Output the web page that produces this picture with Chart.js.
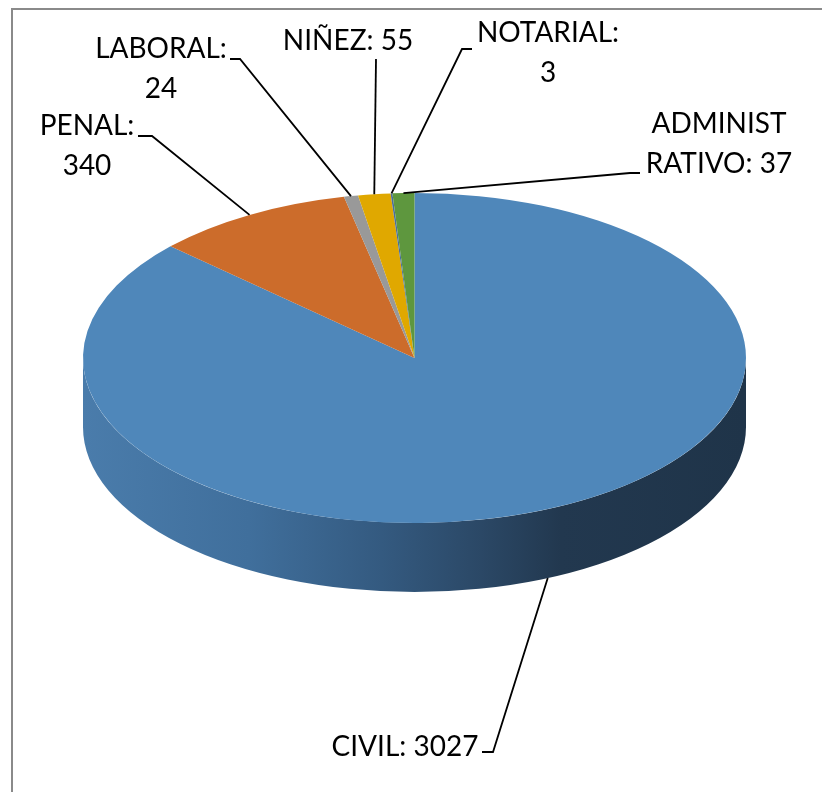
<!DOCTYPE html>
<html>
<head>
<meta charset="utf-8">
<script src="https://cdn.jsdelivr.net/npm/chart.js@4.4.0/dist/chart.umd.min.js"></script>
<style>
  html, body { margin: 0; padding: 0; background: #fff; overflow: hidden; }
  #wrap { position: relative; width: 822px; height: 792px; }
</style>
</head>
<body>
<div id="wrap"><canvas id="pieCanvas" width="822" height="792"></canvas></div>
<script>
"use strict";

const categories  = ['CIVIL', 'PENAL', 'LABORAL', 'NIÑEZ', 'NOTARIAL', 'ADMINISTRATIVO'];
const counts      = [3027, 340, 24, 55, 3, 37];
const sliceColors = ['#4F87BA', '#CC6C2B', '#999999', '#E0A800', '#4A6E9C', '#5E973E'];

// label placement: text centre, first baseline, where the text wraps, leader elbow + tick end
const labelLayout = [
  { split: 0, cx: 405, y: 756, elbow: [493, 752], tick: [482, 752] },
  { split: 6, cx: 87,  y: 135, elbow: [152, 136], tick: [138, 136] },
  { split: 8, cx: 161, y: 58,  elbow: [240, 59],  tick: [230, 59] },
  { split: 0, cx: 348, y: 50,  elbow: [376, 59],  tick: [376, 59] },
  { split: 9, cx: 548, y: 42,  elbow: [462, 49],  tick: [472, 49] },
  { split: 8, cx: 719, y: 133, elbow: [630, 173], tick: [640, 173] }
];

// fake 3D look
const TILT   = 165 / 331.5;   // vertical squash of the top face
const TOP_CY = 358;           // where the squashed centre ends up
const DEPTH  = 69;            // thickness of the side wall
const LABEL_FONT = '28px Lato, "Liberation Sans", sans-serif';

function faceGeom(chart) {
  const arc = chart.getDatasetMeta(0).data[0];
  return { cx: arc.x, cy: arc.y, r: arc.outerRadius };
}

const pie3d = {
  id: 'pie3d',
  beforeDraw(chart) {
    const ctx = chart.ctx;
    ctx.save();
    ctx.fillStyle = '#8a8a8a';
    ctx.fillRect(11, 8, 2, chart.height);
    ctx.fillRect(11, 8, chart.width, 2);
    ctx.restore();
  },
  beforeDatasetsDraw(chart) {
    const ctx = chart.ctx;
    const { cx, cy, r } = faceGeom(chart);
    const ry = r * TILT;

    ctx.save();
    // side wall: only the front half (0..PI) can be seen
    const grad = ctx.createLinearGradient(cx - r, 0, cx + r, 0);
    grad.addColorStop(0,    '#4a7cab');
    grad.addColorStop(0.25, '#406f9c');
    grad.addColorStop(0.45, '#345a80');
    grad.addColorStop(0.6,  '#2b4866');
    grad.addColorStop(0.72, '#22384f');
    grad.addColorStop(1,    '#1f3449');
    chart.getDatasetMeta(0).data.forEach(el => {
      const a1 = Math.max(el.startAngle, 0);
      const a2 = Math.min(el.endAngle, Math.PI);
      if (a2 <= a1) return;
      ctx.beginPath();
      ctx.ellipse(cx, TOP_CY, r, ry, 0, a1, a2, false);
      ctx.ellipse(cx, TOP_CY + DEPTH, r, ry, 0, a2, a1, true);
      ctx.closePath();
      ctx.fillStyle = grad;
      ctx.fill();
    });

    // squash the top face that Chart.js is about to draw
    ctx.translate(0, TOP_CY - cy * TILT);
    ctx.scale(1, TILT);
  },
  afterDatasetsDraw(chart) {
    chart.ctx.restore();
  },
  afterDraw(chart) {
    const ctx = chart.ctx;
    const { cx, r } = faceGeom(chart);
    const ry = r * TILT;
    ctx.save();
    ctx.strokeStyle = '#000';
    ctx.lineWidth = 1.8;
    ctx.fillStyle = '#000';
    ctx.font = LABEL_FONT;
    ctx.textAlign = 'center';
    ctx.textBaseline = 'alphabetic';

    chart.getDatasetMeta(0).data.forEach((el, i) => {
      const lay = labelLayout[i];
      const mid = (el.startAngle + el.endAngle) / 2;
      const s = Math.sin(mid);
      const ax = cx + r * Math.cos(mid);
      const ay = TOP_CY + ry * s + (s > 0 ? DEPTH : 0);

      ctx.beginPath();
      ctx.moveTo(ax, ay);
      ctx.lineTo(lay.elbow[0], lay.elbow[1]);
      ctx.lineTo(lay.tick[0], lay.tick[1]);
      ctx.stroke();

      const full = categories[i] + ': ' + counts[i];
      const lines = lay.split ? [full.slice(0, lay.split), full.slice(lay.split).trim()] : [full];
      lines.forEach((t, k) => ctx.fillText(t, lay.cx, lay.y + k * 40));
    });
    ctx.restore();
  }
};

new Chart(document.getElementById('pieCanvas'), {
  type: 'pie',
  data: {
    labels: categories,
    datasets: [{
      data: counts,
      backgroundColor: sliceColors,
      borderWidth: 0,
      clip: false
    }]
  },
  options: {
    responsive: false,
    animation: false,
    devicePixelRatio: 1,
    layout: { padding: { left: 83, right: 76, top: 0, bottom: 129 } },
    plugins: {
      legend: { display: false },
      tooltip: { enabled: false }
    }
  },
  plugins: [pie3d]
});
</script>
</body>
</html>
